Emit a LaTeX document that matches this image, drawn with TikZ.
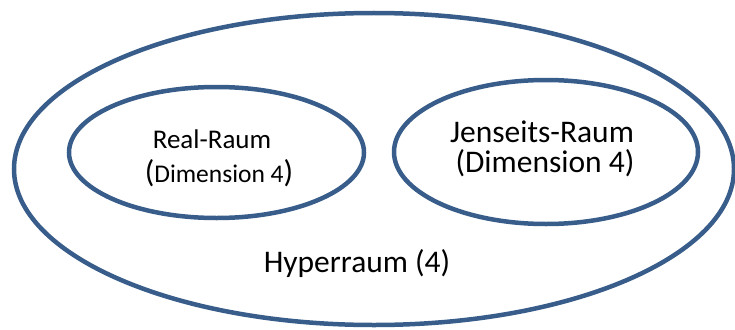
\documentclass[tikz,border=0pt]{standalone}
\usepackage{fontspec}
\setmainfont{Carlito}
\usetikzlibrary{shapes.geometric}
\definecolor{rimblue}{RGB}{56,93,138}
\tikzset{
  raum/.style={draw=rimblue, line width=4.5pt, ellipse, inner sep=0pt},
  bigtext/.style={anchor=base, inner sep=0pt, font=\fontsize{31.5}{34}\selectfont},
  midtext/.style={anchor=base, inner sep=0pt, font=\fontsize{27}{30}\selectfont}
}
\newcommand{\smalldim}{\fontsize{25.5}{28}\selectfont}

\begin{document}
\begin{tikzpicture}[x=1pt,y=-1pt]
  \useasboundingbox (0,0) rectangle (735,329);

  % the three spaces
  \node[raum, minimum width=720pt, minimum height=312pt] (hyper) at (374,169) {};
  \node[raum, minimum width=295pt, minimum height=131pt] (real) at (216.5,152.5) {};
  \node[raum, minimum width=304pt, minimum height=144pt] (jenseits) at (546,152) {};

  % labels
  \node[midtext] (realname) at (212,148) {Real-Raum};
  \node[bigtext] (realdim) at (219,182) {(\smalldim Dimension 4\fontsize{31.5}{34}\selectfont)};
  \node[bigtext] (jenseitsname) at (542,142) {Jenseits-Raum};
  \node[bigtext] (jenseitsdim) at (545,172) {(Dimension 4)};
  \node[bigtext] (hypername) at (357,272) {Hyperraum (4)};
\end{tikzpicture}
\end{document}
